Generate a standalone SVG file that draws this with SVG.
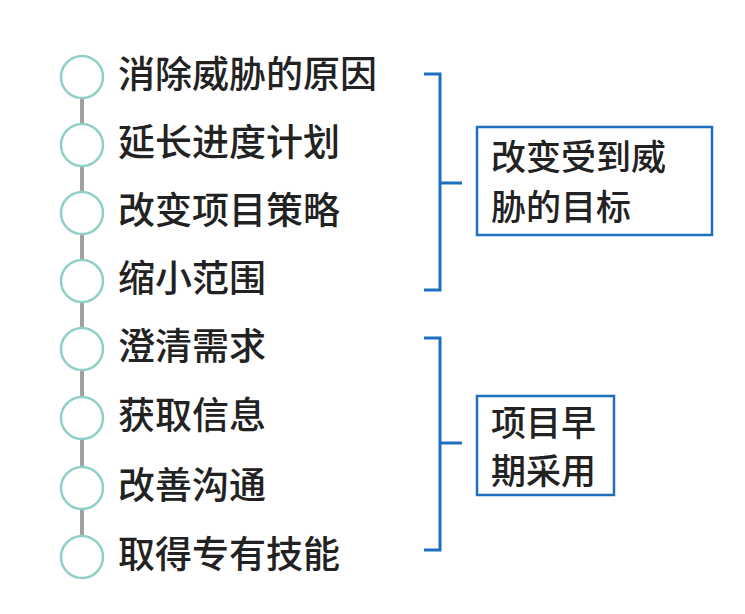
<svg xmlns="http://www.w3.org/2000/svg" width="745" height="614" viewBox="0 0 745 614">
<style>
.c{fill:#fff;stroke:#8fcfc8;stroke-width:2.5}
.t{font-family:"Noto Sans CJK SC",sans-serif;font-size:37px;font-weight:500;fill:#222}
.s{font-size:35px}
.b{fill:none;stroke:#1f6fbf;stroke-width:3}
.bx{fill:#fff;stroke:#1f6fbf;stroke-width:2.5}
</style>
<rect width="745" height="614" fill="#fff"/>
<g id="connectors">
<line x1="82" y1="77" x2="82" y2="557" stroke="#a0a0a0" stroke-width="4"/>
<path class="b" d="M424 74 H440 V290 H424 M440 183 H462"/>
<path class="b" d="M424 338 H440 V550 H424 M440 443 H462"/>
</g>
<g id="items">
<circle class="c" cx="82" cy="77" r="21"/><text class="t" x="118" y="88">消除威胁的原因</text>
<circle class="c" cx="82" cy="145" r="21"/><text class="t" x="118" y="156">延长进度计划</text>
<circle class="c" cx="82" cy="213" r="21"/><text class="t" x="118" y="224">改变项目策略</text>
<circle class="c" cx="82" cy="281" r="21"/><text class="t" x="118" y="292">缩小范围</text>
<circle class="c" cx="82" cy="349" r="21"/><text class="t" x="118" y="360">澄清需求</text>
<circle class="c" cx="82" cy="418" r="21"/><text class="t" x="118" y="429">获取信息</text>
<circle class="c" cx="82" cy="488" r="21"/><text class="t" x="118" y="499">改善沟通</text>
<circle class="c" cx="82" cy="557" r="21"/><text class="t" x="118" y="568">取得专有技能</text>
</g>
<g id="box1"><rect class="bx" x="477" y="127" width="235" height="108"/>
<text class="t s" x="491" y="170">改变受到威</text><text class="t s" x="491" y="220">胁的目标</text></g>
<g id="box2"><rect class="bx" x="477" y="396" width="137" height="99"/>
<text class="t s" x="491" y="436">项目早</text><text class="t s" x="491" y="484">期采用</text></g>
</svg>
